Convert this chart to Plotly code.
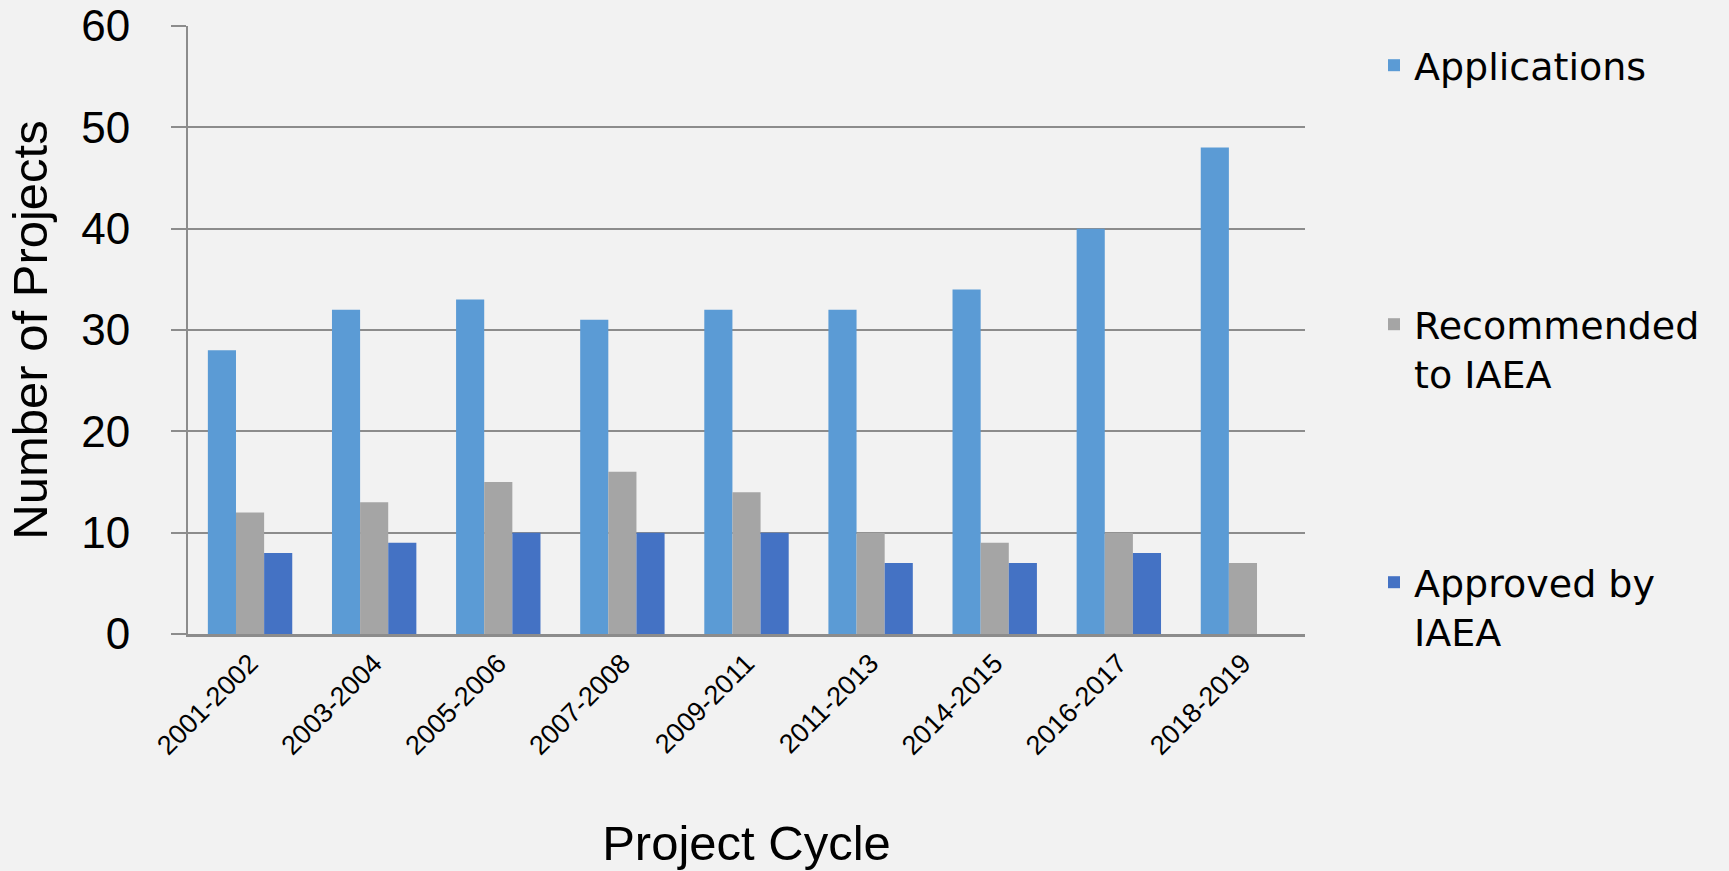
import plotly.graph_objects as go

cycles = ["2001-2002", "2003-2004", "2005-2006", "2007-2008", "2009-2011",
          "2011-2013", "2014-2015", "2016-2017", "2018-2019"]
applications = [28, 32, 33, 31, 32, 32, 34, 40, 48]
recommended = [12, 13, 15, 16, 14, 10, 9, 10, 7]
approved = [8, 9, 10, 10, 10, 7, 7, 8, None]

c_app = "#5B9BD5"
c_rec = "#A5A5A5"
c_apr = "#4472C4"
grid = "#8C8C8C"
bg = "#F2F2F2"

W, H = 1729, 871
L, R, T, B = 188, 424, 26, 237
pw = W - L - R
ph = H - T - B

def py(px_y):
    return (H - B - px_y) / ph

def px(px_x):
    return (px_x - L) / pw

fig = go.Figure()
fig.add_trace(go.Bar(x=cycles, y=applications, name="Applications",
                     marker=dict(color=c_app, line=dict(width=0)), legend="legend"))
fig.add_trace(go.Bar(x=cycles, y=recommended, name="Recommended<br>to IAEA",
                     marker=dict(color=c_rec, line=dict(width=0)), legend="legend2"))
fig.add_trace(go.Bar(x=cycles, y=approved, name="Approved by<br>IAEA",
                     marker=dict(color=c_apr, line=dict(width=0)), legend="legend3"))

leg_font = dict(family="DejaVu Sans", size=38, color="black")
leg_common = dict(font=leg_font, bgcolor="rgba(0,0,0,0)", xanchor="left",
                  yanchor="top", valign="top", itemclick=False, itemdoubleclick=False)

title_font = dict(family="Liberation Sans", size=49, color="black")

fig.update_layout(
    width=W, height=H,
    margin=dict(l=L, r=R, t=T, b=B, autoexpand=False),
    paper_bgcolor=bg, plot_bgcolor=bg,
    barmode="group", bargap=0.32, bargroupgap=0,
    showlegend=True,
    legend=dict(x=px(1374), y=py(34), **leg_common),
    legend2=dict(x=px(1374), y=py(293), **leg_common),
    legend3=dict(x=px(1374), y=py(551), **leg_common),
    font=dict(family="Liberation Sans", color="black"),
)

fig.update_xaxes(
    type="category", range=[-0.5, 8.5],
    showline=True, linecolor=grid, linewidth=2.5,
    showgrid=False, zeroline=False, ticks="",
    tickangle=-45, tickfont=dict(family="Liberation Sans", size=27, color="black"),
    title=dict(text="Project Cycle", font=title_font, standoff=66),
)
fig.update_yaxes(
    range=[0, 60], dtick=10, tick0=0,
    showline=True, linecolor=grid, linewidth=2,
    showgrid=True, gridcolor=grid, gridwidth=1.5,
    zeroline=False,
    ticks="outside", ticklen=15, tickcolor=grid, tickwidth=1.5,
    ticklabelstandoff=32,
    tickfont=dict(family="Liberation Sans", size=44, color="black"),
    title=dict(text="Number of Projects", font=title_font, standoff=18),
)

fig.write_html(
    "out.html",
    config={"displayModeBar": False},
    post_script="document.body.style.margin='0';document.body.style.padding='0';"
                "document.documentElement.style.margin='0';",
)
